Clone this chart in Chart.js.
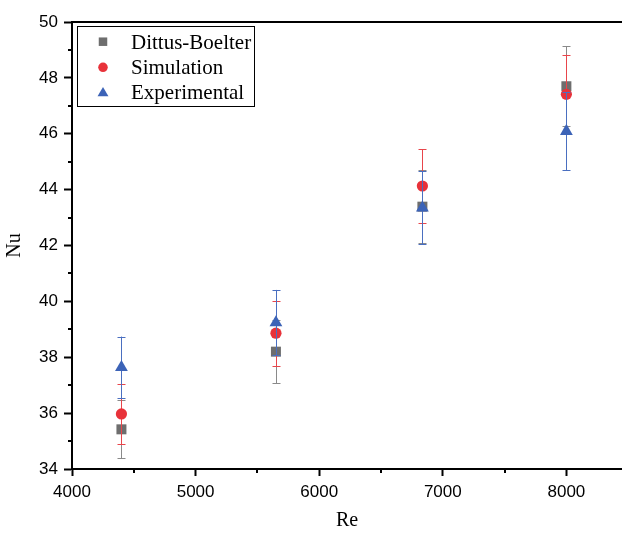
<!DOCTYPE html>
<html>
<head>
<meta charset="utf-8">
<script src="https://cdn.jsdelivr.net/npm/chart.js@4.4.0/dist/chart.umd.min.js"></script>
<style>
  html, body { margin: 0; padding: 0; background: #fff; }
  #wrap { width: 622px; height: 534px; }
</style>
</head>
<body>
<div id="wrap"><canvas id="grafico" width="622" height="534"></canvas></div>
<script>
// valores
const re = [4400, 5650, 6835, 8000];
const dittus = [35.42, 38.20, 43.39, 47.70];
const dittusErr = [1.04, 1.13, 1.30, 1.43];
const simulacao = [35.97, 38.86, 44.13, 47.41];
const simulacaoErr = [1.08, 1.17, 1.32, 1.42];
const experimental = [37.64, 39.24, 43.35, 46.09];
const experimentalErr = [1.10, 1.17, 1.30, 1.39];

const xTicks = [4000, 5000, 6000, 7000, 8000];
const yTicks = [34, 36, 38, 40, 42, 44, 46, 48, 50];
const xMinor = [4500, 5500, 6500, 7500];
const yMinor = [35, 37, 39, 41, 43, 45, 47, 49];

const cinza = '#6e6e6e';
const vermelho = '#e8323a';
const azul = '#3c63b7';

const series = [
    { label: 'Dittus-Boelter', y: dittus, err: dittusErr, cor: cinza, barra: '#8a8a8a', estilo: 'rect', raio: 7.07, ordem: 3 },
    { label: 'Simulation', y: simulacao, err: simulacaoErr, cor: vermelho, barra: '#e8454b', estilo: 'circle', raio: 5.6, ordem: 2 },
    { label: 'Experimental', y: experimental, err: experimentalErr, cor: azul, barra: '#4a6fc0', estilo: 'triangle', raio: 7.4, ordem: 1 }
];

// barras de erro desenhadas antes dos marcadores de cada serie
const barrasErro = {
    id: 'barrasErro',
    beforeDatasetDraw: function (chart, args) {
        const s = series[args.index];
        const ctx = chart.ctx;
        const ys = chart.scales.y;
        ctx.save();
        ctx.strokeStyle = s.barra;
        ctx.lineWidth = 1;
        args.meta.data.forEach(function (pt, i) {
            const x = Math.round(pt.x) + 0.5;
            const t = ys.getPixelForValue(s.y[i] + s.err[i]);
            const b = ys.getPixelForValue(s.y[i] - s.err[i]);
            ctx.beginPath();
            ctx.moveTo(x, t); ctx.lineTo(x, b);
            ctx.moveTo(x - 4, Math.round(t) + 0.5); ctx.lineTo(x + 4, Math.round(t) + 0.5);
            ctx.moveTo(x - 4, Math.round(b) + 0.5); ctx.lineTo(x + 4, Math.round(b) + 0.5);
            ctx.stroke();
        });
        ctx.restore();
    }
};

function desenhaMarcador(ctx, estilo, x, y, r, cor) {
    ctx.fillStyle = cor;
    ctx.beginPath();
    if (estilo === 'rect') {
        const s = r * Math.SQRT1_2;
        ctx.rect(x - s, y - s, 2 * s, 2 * s);
    } else if (estilo === 'circle') {
        ctx.arc(x, y, r, 0, Math.PI * 2);
    } else {
        const w = r * Math.sqrt(3) / 2;
        ctx.moveTo(x, y - r);
        ctx.lineTo(x + w, y + r / 2);
        ctx.lineTo(x - w, y + r / 2);
        ctx.closePath();
    }
    ctx.fill();
}

// moldura, ticks menores e legenda
const moldura = {
    id: 'moldura',
    afterDraw: function (chart) {
        const ctx = chart.ctx;
        const a = chart.chartArea;
        const xs = chart.scales.x;
        const ys = chart.scales.y;
        ctx.save();
        ctx.strokeStyle = '#000';
        ctx.lineWidth = 2;
        ctx.beginPath();
        ctx.moveTo(a.left - 1, a.top);
        ctx.lineTo(a.right + 2, a.top);
        ctx.stroke();

        ctx.beginPath();
        xMinor.forEach(function (v) {
            const px = Math.round(xs.getPixelForValue(v));
            ctx.moveTo(px, a.bottom); ctx.lineTo(px, a.bottom + 4);
        });
        yMinor.forEach(function (v) {
            const py = Math.round(ys.getPixelForValue(v));
            ctx.moveTo(a.left, py); ctx.lineTo(a.left - 4, py);
        });
        ctx.stroke();

        // legenda
        ctx.lineWidth = 1;
        ctx.strokeRect(77.5, 26.5, 177, 80);
        const linhas = [41.7, 67.3, 91.7];
        ctx.font = '21px "Liberation Serif", "Times New Roman", serif';
        ctx.textBaseline = 'middle';
        ctx.textAlign = 'left';
        series.forEach(function (s, i) {
            desenhaMarcador(ctx, s.estilo, 103, linhas[i] + (s.estilo === 'triangle' ? 1.5 : 0), s.raio * 0.85, s.cor);
            ctx.fillStyle = '#000';
            ctx.fillText(s.label, 131, linhas[i] + 1.5);
        });
        ctx.restore();
    }
};

const ctx = document.getElementById('grafico');

new Chart(ctx, {
    type: 'scatter',
    data: {
        datasets: series.map(function (s) {
            return {
                label: s.label,
                data: re.map(function (x, i) { return { x: x, y: s.y[i] }; }),
                pointStyle: s.estilo,
                pointRadius: s.raio,
                pointHoverRadius: s.raio,
                backgroundColor: s.cor,
                borderColor: s.cor,
                borderWidth: 0,
                order: s.ordem
            };
        })
    },
    plugins: [barrasErro, moldura],
    options: {
        responsive: false,
        animation: false,
        devicePixelRatio: 1,
        layout: { autoPadding: false, padding: { top: 22, right: 0, left: 0, bottom: 0 } },
        plugins: {
            legend: { display: false },
            tooltip: { enabled: false }
        },
        scales: {
            x: {
                type: 'linear',
                min: 4000,
                max: 8450,
                afterBuildTicks: function (scale) {
                    scale.ticks = xTicks.map(function (v) { return { value: v }; });
                },
                afterFit: function (scale) {
                    scale.height = 65;
                    scale.paddingLeft = 0;
                    scale.paddingRight = 0;
                },
                ticks: {
                    includeBounds: false,
                    autoSkip: false,
                    maxRotation: 0,
                    padding: 6,
                    color: '#000',
                    font: { family: '"Liberation Sans", Arial, sans-serif', size: 17 },
                    callback: function (v) { return String(v); }
                },
                grid: {
                    drawOnChartArea: false,
                    drawTicks: true,
                    tickLength: 7,
                    tickWidth: 2,
                    tickColor: '#000'
                },
                border: { display: true, color: '#000', width: 2 },
                title: {
                    display: true,
                    text: 'Re',
                    color: '#000',
                    font: { family: '"Liberation Serif", "Times New Roman", serif', size: 20 },
                    padding: { top: 0, bottom: 1 }
                }
            },
            y: {
                type: 'linear',
                min: 34,
                max: 50,
                afterBuildTicks: function (scale) {
                    scale.ticks = yTicks.map(function (v) { return { value: v }; });
                },
                afterFit: function (scale) {
                    scale.width = 72;
                    scale.paddingTop = 0;
                    scale.paddingBottom = 0;
                },
                ticks: {
                    includeBounds: false,
                    autoSkip: false,
                    padding: 6,
                    color: '#000',
                    font: { family: '"Liberation Sans", Arial, sans-serif', size: 17 },
                    callback: function (v) { return String(v); }
                },
                grid: {
                    drawOnChartArea: false,
                    drawTicks: true,
                    tickLength: 8,
                    tickWidth: 2,
                    tickColor: '#000'
                },
                border: { display: true, color: '#000', width: 2 },
                title: {
                    display: true,
                    text: 'Nu',
                    color: '#000',
                    font: { family: '"Liberation Serif", "Times New Roman", serif', size: 20 },
                    padding: { top: 3, bottom: 0 }
                }
            }
        }
    }
});
</script>
</body>
</html>
